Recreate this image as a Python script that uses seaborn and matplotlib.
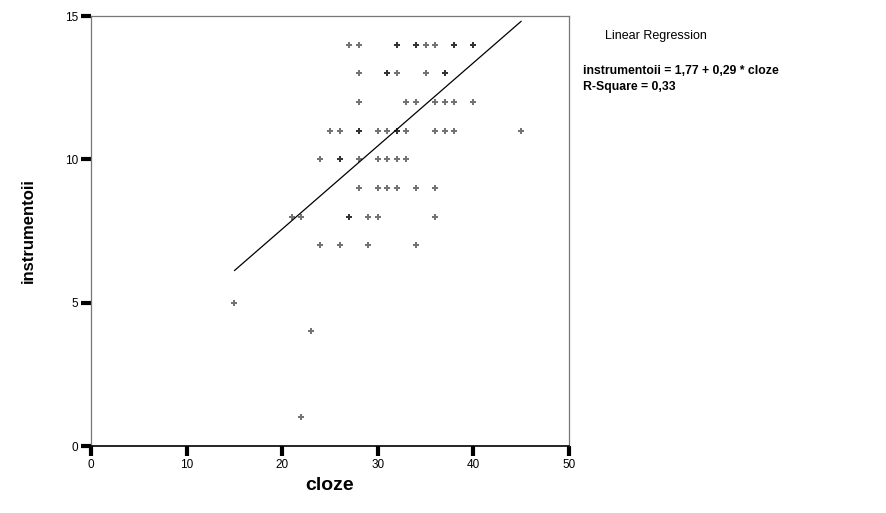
import numpy as np
import pandas as pd
import seaborn as sns
import matplotlib.pyplot as plt

# Points, grouped by instrumentoii value (dark marks = repeated cases)
row_14 = [27, 28, 32, 32, 34, 34, 35, 36, 38, 38, 40, 40]
row_13 = [28, 31, 31, 32, 35, 37, 37]
row_12 = [28, 33, 34, 36, 37, 38, 40]
row_11 = [25, 26, 28, 28, 30, 31, 32, 32, 33, 36, 37, 38, 45]
row_10 = [24, 26, 26, 28, 30, 31, 32, 33]
row_9 = [28, 30, 31, 32, 34, 36]
row_8 = [21, 22, 27, 27, 29, 30, 36]
row_7 = [24, 26, 29, 34]
row_5 = [15]
row_4 = [23]
row_1 = [22]

intercept = 1.77
slope = 0.29
r_square = 0.33

rows = {14: row_14, 13: row_13, 12: row_12, 11: row_11, 10: row_10, 9: row_9,
        8: row_8, 7: row_7, 5: row_5, 4: row_4, 1: row_1}
df = pd.DataFrame([(x, y) for y, xs in rows.items() for x in xs],
                  columns=['cloze', 'instrumentoii'])

sns.set_style('white', {'text.color': 'black', 'axes.labelcolor': 'black',
                        'xtick.color': 'black', 'ytick.color': 'black'})
plt.rcParams['font.family'] = ['Liberation Sans', 'DejaVu Sans']

fig = plt.figure(figsize=(8.86, 5.13), dpi=100)
ax = fig.add_axes([0.1027, 0.1306, 0.5395, 0.838])

sns.scatterplot(data=df, x='cloze', y='instrumentoii', ax=ax, marker='P',
                s=16, color='black', alpha=0.55, linewidth=0)

fit = pd.DataFrame({'cloze': [df['cloze'].min(), df['cloze'].max()]})
fit['instrumentoii'] = intercept + slope * fit['cloze']
sns.lineplot(data=fit, x='cloze', y='instrumentoii', ax=ax, color='black', linewidth=0.9)

ax.set_xlim(0, 50)
ax.set_ylim(0, 15)
ax.set_xticks([0, 10, 20, 30, 40, 50])
ax.set_yticks([0, 5, 10, 15])
ax.tick_params(axis='both', direction='out', length=7, width=3, color='black',
               labelcolor='black', labelsize=8.5, pad=2, bottom=True, left=True)
for side in ['top', 'right', 'left']:
    ax.spines[side].set_color('#777777')
    ax.spines[side].set_linewidth(0.9)
ax.spines['bottom'].set_color('black')
ax.spines['bottom'].set_linewidth(1.2)

ax.set_xlabel('cloze', fontsize=14, fontweight='bold', labelpad=5, color='black')
ax.set_ylabel('instrumentoii', fontsize=12, fontweight='bold', labelpad=21, color='black')

fig.text(0.683, 0.93, 'Linear Regression', fontsize=9, va='center', color='black')
fig.text(0.658, 0.862, 'instrumentoii = 1,77 + 0,29 * cloze', fontsize=8.8,
         fontweight='bold', va='center', color='black')
fig.text(0.658, 0.830, 'R-Square = 0,33', fontsize=8.8, fontweight='bold',
         va='center', color='black')

fig.savefig('out.png', dpi=100)
